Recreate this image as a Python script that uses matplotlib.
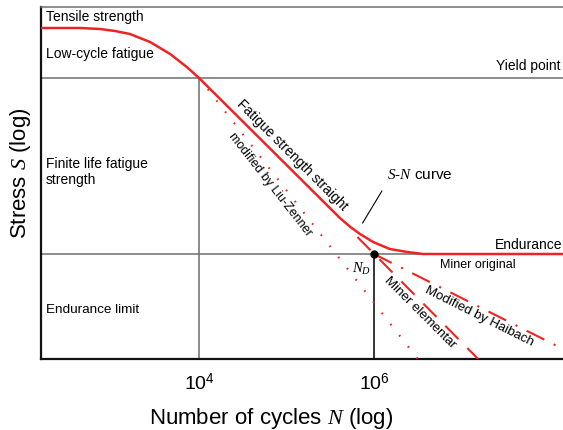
import matplotlib
matplotlib.use("Agg")
import matplotlib.pyplot as plt

plt.rcParams['font.family'] = ['Liberation Sans', 'DejaVu Sans']
plt.rcParams['mathtext.fontset'] = 'custom'
plt.rcParams['mathtext.rm'] = 'Liberation Sans'
plt.rcParams['mathtext.sf'] = 'Liberation Sans'
plt.rcParams['mathtext.it'] = 'Liberation Serif:italic'
plt.rcParams['mathtext.bf'] = 'Liberation Sans:bold'

# S-N curve (log N, log S in arbitrary units)
sn_logN = [2.19, 2.64, 2.87, 3.04, 3.21, 3.44, 3.67, 3.86, 4.00,
           5.61, 5.73, 5.84, 5.99, 6.18, 6.38, 6.56, 8.16]
sn_logS = [3.31, 3.31, 3.30, 3.28, 3.25, 3.17, 3.05, 2.92, 2.81,
           1.41, 1.32, 1.25, 1.17, 1.10, 1.07, 1.05, 1.05]

# extensions below the endurance limit
liu_logN = [4.00, 6.50]
liu_logS = [2.81, 0.00]
miner_el_logN = [5.81, 7.19]
miner_el_logS = [1.22, 0.00]
haibach_logN = [6.00, 8.16]
haibach_logS = [1.05, 0.10]

yield_S = 2.81
endurance_S = 1.05
knee_N = 4.0
ND = 6.0

xmin, xmax = 2.194, 8.16
ymin, ymax = 0.0, 3.52

tick_pos = [4, 6]
tick_labels = ['$10^4$', '$10^6$']

red = '#ee2424'
gray = '#6e6e6e'

fig = plt.figure(figsize=(5.63, 4.31), dpi=100)
ax = fig.add_axes([41 / 563, 71 / 431, 522 / 563, 352 / 431])
ax.set_xlim(xmin, xmax)
ax.set_ylim(ymin, ymax)

# grid-like reference lines
ax.plot([xmin, xmax], [yield_S, yield_S], color=gray, lw=1.1, zorder=1)
ax.plot([xmin, xmax], [endurance_S, endurance_S], color=gray, lw=1.1, zorder=1)
ax.plot([knee_N, knee_N], [ymin, yield_S], color=gray, lw=1.1, zorder=1)
ax.plot([ND, ND], [ymin, endurance_S], color='black', lw=1.1, zorder=1)

# curves
ax.plot(sn_logN, sn_logS, color=red, lw=1.8, zorder=3, solid_capstyle='butt')
ax.plot(liu_logN, liu_logS, color=red, lw=1.5, ls=(0, (0.8, 6.0)), zorder=3)
ax.plot(miner_el_logN, miner_el_logS, color=red, lw=1.5, ls=(0, (9, 6)), zorder=3)
ax.plot(haibach_logN, haibach_logS, color=red, lw=1.5, ls=(0, (9.5, 5, 1, 5)), zorder=3)
ax.plot([ND], [endurance_S], 'o', color='black', ms=5, zorder=4)

# text annotations
ax.text(2.25, 3.43, 'Tensile strength', fontsize=10, va='center', ha='left')
ax.text(2.25, 3.06, 'Low-cycle fatigue', fontsize=10, va='center', ha='left')
ax.text(8.13, 2.94, 'Yield point', fontsize=10, va='center', ha='right')
ax.text(2.25, 1.88, 'Finite life fatigue\nstrength', fontsize=10, va='center', ha='left',
        linespacing=1.2)
ax.text(2.25, 0.50, 'Endurance limit', fontsize=9.7, va='center', ha='left')
ax.text(8.15, 1.15, 'Endurance', fontsize=10, va='center', ha='right')
ax.text(6.75, 0.95, 'Miner original', fontsize=9, va='center', ha='left')
ax.text(7.20, 0.44, 'Modified by Haibach', fontsize=9.5, va='center', ha='center',
        rotation=-26.6, rotation_mode='anchor')
ax.text(6.53, 0.47, 'Miner elementar', fontsize=9.5, va='center', ha='center',
        rotation=-45, rotation_mode='anchor')
ax.text(5.06, 2.05, 'Fatigue strength straight', fontsize=10, va='center', ha='center',
        rotation=-45, rotation_mode='anchor')
ax.text(4.81, 1.75, 'modified by Liu-Zenner', fontsize=9, va='center', ha='center',
        rotation=-52, rotation_mode='anchor')
ax.text(6.15, 1.85, '$S$-$N$ curve', fontsize=11, va='center', ha='left')
ax.plot([6.09, 5.87], [1.68, 1.36], color='black', lw=0.8, zorder=2)
ax.text(5.86, 0.91, '$N_D$', fontsize=10.5, va='center', ha='center')

# axes styling
for side in ['left', 'bottom']:
    ax.spines[side].set_linewidth(1.6)
    ax.spines[side].set_color('#111111')
ax.spines['top'].set_linewidth(1.1)
ax.spines['top'].set_color(gray)
ax.spines['right'].set_visible(False)

ax.set_yticks([])
ax.set_xticks(tick_pos)
ax.set_xticklabels(tick_labels, fontsize=14)
ax.tick_params(axis='x', length=0, pad=9)

ax.set_xlabel('Number of cycles $N$ (log)', fontsize=16, va='center')
ax.xaxis.set_label_coords(0.44, -0.165)
ax.set_ylabel('Stress $S$ (log)', fontsize=16, va='center')
ax.yaxis.set_label_coords(-0.040, 0.531)

fig.savefig('out.png', dpi=100)
